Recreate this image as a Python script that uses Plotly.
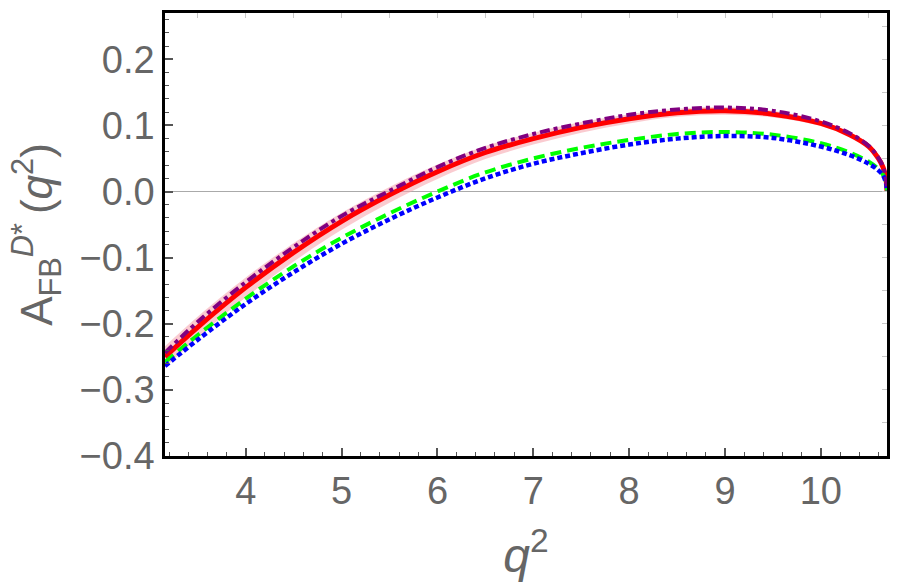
import plotly.graph_objects as go

q2 = [3.157, 3.5, 4.0, 4.5, 5.0, 5.5, 6.0, 6.5, 7.0, 7.5, 8.0, 8.5, 9.0, 9.5, 10.0, 10.3, 10.5, 10.6, 10.65, 10.68, 10.69]

afb_sm = [-0.250, -0.205, -0.145, -0.092, -0.045, -0.005, 0.030, 0.059, 0.080, 0.097, 0.110, 0.119, 0.122, 0.117, 0.103, 0.086, 0.068, 0.050, 0.036, 0.018, 0.000]
band_hi = [-0.234, -0.189, -0.130, -0.078, -0.032, 0.007, 0.041, 0.069, 0.089, 0.105, 0.117, 0.125, 0.128, 0.122, 0.107, 0.089, 0.071, 0.052, 0.038, 0.019, 0.000]
band_lo = [-0.266, -0.221, -0.160, -0.106, -0.058, -0.017, 0.019, 0.049, 0.071, 0.089, 0.103, 0.113, 0.116, 0.112, 0.099, 0.083, 0.065, 0.048, 0.034, 0.017, 0.000]
afb_purple = [-0.244, -0.197, -0.137, -0.084, -0.037, 0.001, 0.037, 0.066, 0.087, 0.103, 0.116, 0.124, 0.127, 0.122, 0.106, 0.088, 0.069, 0.051, 0.037, 0.018, 0.000]
afb_green = [-0.258, -0.217, -0.162, -0.113, -0.070, -0.033, 0.000, 0.029, 0.050, 0.066, 0.078, 0.087, 0.090, 0.086, 0.073, 0.059, 0.045, 0.034, 0.025, 0.013, 0.000]
afb_blue = [-0.264, -0.224, -0.170, -0.122, -0.079, -0.042, -0.009, 0.020, 0.042, 0.058, 0.071, 0.080, 0.084, 0.081, 0.068, 0.055, 0.042, 0.032, 0.024, 0.012, 0.000]

x_ticks = [4, 5, 6, 7, 8, 9, 10]
y_ticks = [-0.4, -0.3, -0.2, -0.1, 0.0, 0.1, 0.2]
y_ticklabels = ["\u22120.4", "\u22120.3", "\u22120.2", "\u22120.1", "0.0", "0.1", "0.2"]

X_RANGE = [3.157, 10.69]
Y_RANGE = [-0.4, 0.27]

fig = go.Figure()
fig.add_trace(go.Scatter(x=q2, y=band_lo, mode="lines", line=dict(width=0, shape="spline"),
                         showlegend=False, hoverinfo="skip"))
fig.add_trace(go.Scatter(x=q2, y=band_hi, mode="lines", line=dict(width=0, shape="spline"),
                         fill="tonexty", fillcolor="rgba(245,160,170,0.55)",
                         showlegend=False, hoverinfo="skip"))
fig.add_trace(go.Scatter(x=q2, y=afb_sm, mode="lines",
                         line=dict(color="#FF0000", width=5, shape="spline"), showlegend=False))
fig.add_trace(go.Scatter(x=q2, y=afb_green, mode="lines",
                         line=dict(color="#00FF00", width=4, shape="spline", dash="11px,6px"), showlegend=False))
fig.add_trace(go.Scatter(x=q2, y=afb_blue, mode="lines",
                         line=dict(color="#0000FF", width=4.5, shape="spline", dash="5px,3px"), showlegend=False))
fig.add_trace(go.Scatter(x=q2, y=afb_purple, mode="lines",
                         line=dict(color="#800080", width=4, shape="spline", dash="10px,4px,4px,4px"), showlegend=False))

font_family = "Liberation Sans, Arial, sans-serif"

fig.update_layout(
    width=900, height=588,
    margin=dict(l=165, r=11, t=10, b=132),
    paper_bgcolor="white", plot_bgcolor="white",
    font=dict(family=font_family, color="#666666"),
    xaxis=dict(
        range=X_RANGE, tickvals=x_ticks, ticktext=[str(v) for v in x_ticks],
        ticks="inside", ticklen=8, tickwidth=1.5, tickcolor="#555555",
        minor=dict(dtick=0.2, tick0=4, ticks="inside", ticklen=4, tickwidth=1, tickcolor="#555555"),
        showline=True, linecolor="black", linewidth=2.5, mirror=True,
        showgrid=False, zeroline=False,
        tickfont=dict(size=38, color="#666666"),
        title=dict(text="<i>q</i><sup>2</sup>", font=dict(size=48, color="#666666"), standoff=28),
    ),
    yaxis=dict(
        range=Y_RANGE, tickvals=y_ticks, ticktext=y_ticklabels,
        ticks="inside", ticklen=8, tickwidth=1.5, tickcolor="#555555",
        minor=dict(dtick=0.02, tick0=0, ticks="inside", ticklen=4, tickwidth=1, tickcolor="#555555"),
        showline=True, linecolor="black", linewidth=2.5, mirror=True,
        showgrid=False, zeroline=True, zerolinecolor="#aaaaaa", zerolinewidth=1,
        tickfont=dict(size=38, color="#666666"),
        title=dict(text="A<sub>FB</sub><sup><i>D</i>*</sup>\u2009(<i>q</i><sup>2</sup>)",
                   font=dict(size=44, color="#666666"), standoff=14),
    ),
    xaxis2=dict(
        range=X_RANGE, overlaying="x", side="top", dtick=0.5, tick0=4,
        ticks="inside", ticklen=5, tickwidth=1, tickcolor="#c8c8c8",
        showticklabels=False, showgrid=False, zeroline=False, showline=False,
    ),
    yaxis2=dict(
        range=Y_RANGE, overlaying="y", side="right", dtick=0.05, tick0=0,
        ticks="inside", ticklen=5, tickwidth=1, tickcolor="#c8c8c8",
        showticklabels=False, showgrid=False, zeroline=False, showline=False,
    ),
)
fig.add_trace(go.Scatter(x=[X_RANGE[0]], y=[Y_RANGE[0]], xaxis="x2", yaxis="y2",
                         mode="markers", marker=dict(opacity=0), showlegend=False, hoverinfo="skip"))

fig.write_html("out.html")
